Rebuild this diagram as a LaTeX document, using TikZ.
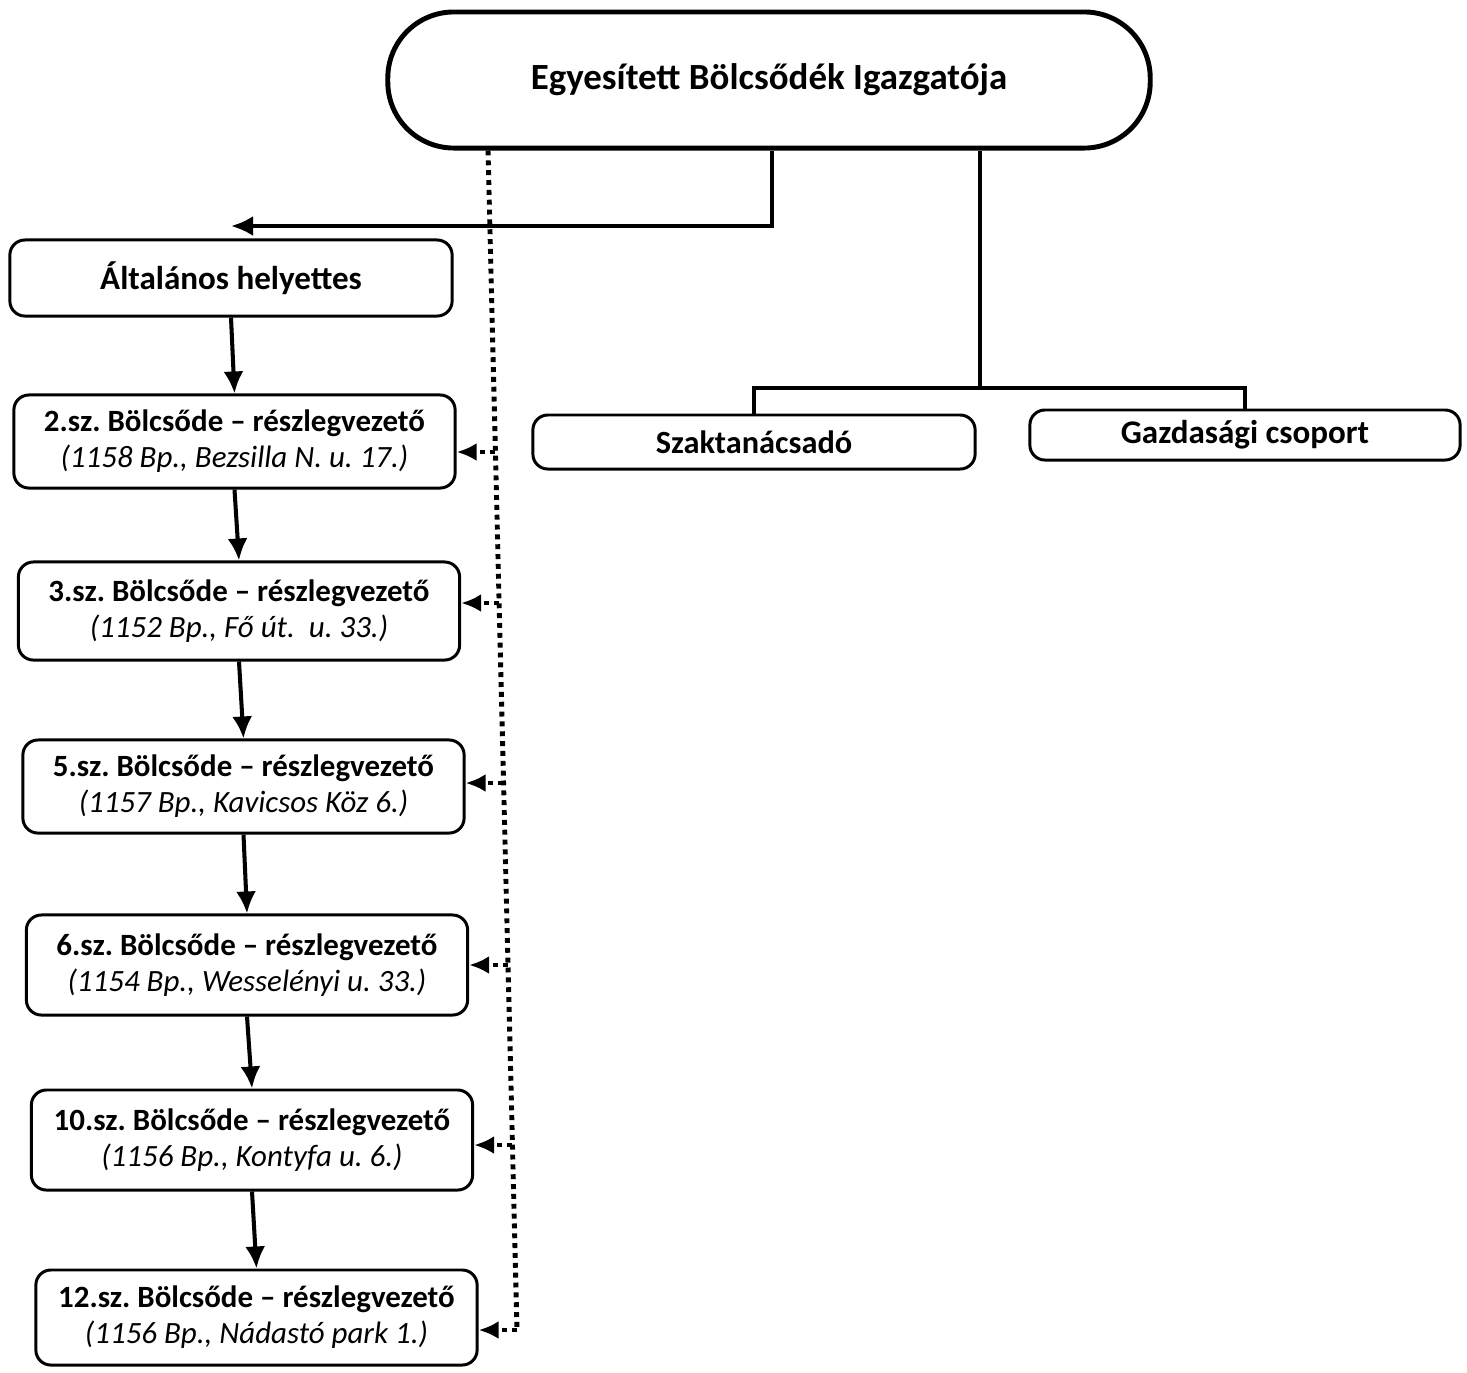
\documentclass[tikz,border=0pt]{standalone}
\usepackage{fontspec}
\setmainfont{Carlito}
\usetikzlibrary{arrows.meta,calc}
\frenchspacing
\begin{document}
\begin{tikzpicture}[x=0.01cm,y=-0.01cm,
  box/.style={draw, line width=0.85pt, rounded corners=0.15cm, align=center, inner sep=0pt,
     minimum width=4.41cm, font=\fontsize{8.8}{10.2}\selectfont\bfseries},
  pill/.style={draw, line width=1.4pt, rounded corners=0.66cm, inner sep=0pt,
     minimum width=7.62cm, minimum height=1.36cm, font=\fontsize{10.5}{12}\selectfont\bfseries},
  conn/.style={line width=1.15pt},
  arr/.style={conn, -{Latex[length=0.22cm,width=0.2cm]}},
  dotline/.style={line width=1.4pt, dash pattern=on 1.4pt off 1.4pt},
  dotarr/.style={dotline, -{Latex[length=0.2cm,width=0.18cm]}},
  sub/.style={}
]
\useasboundingbox (0,0) rectangle (1467,1372);

\node[pill] (top) at (769,80) {Egyesített Bölcsődék Igazgatója};

\node[box, minimum height=0.76cm, minimum width=4.42cm, font=\fontsize{9.4}{11}\selectfont\bfseries] (alt) at (231,278) {Általános helyettes};
\node[box, minimum height=0.93cm] (b2) at (234.5,441.5) {2.sz. Bölcsőde – részlegvezető\\ \mdseries\itshape (1158 Bp., Bezsilla N. u. 17.)};
\node[box, minimum height=0.98cm] (b3) at (239,611) {3.sz. Bölcsőde – részlegvezető\\ \mdseries\itshape (1152 Bp., Fő út.\ \ u. 33.)};
\node[box, minimum height=0.93cm] (b5) at (243.5,786.5) {5.sz. Bölcsőde – részlegvezető\\ \mdseries\itshape (1157 Bp., Kavicsos Köz 6.)};
\node[box, minimum height=1.0cm] (b6) at (247,965) {6.sz. Bölcsőde – részlegvezető\\ \mdseries\itshape (1154 Bp., Wesselényi u. 33.)};
\node[box, minimum height=1.0cm] (b10) at (252,1140) {10.sz. Bölcsőde – részlegvezető\\ \mdseries\itshape (1156 Bp., Kontyfa u. 6.)};
\node[box, minimum height=0.95cm] (b12) at (256.5,1317.5) {12.sz. Bölcsőde – részlegvezető\\ \mdseries\itshape (1156 Bp., Nádastó park 1.)};

\node[box, minimum height=0.54cm, minimum width=4.42cm, font=\fontsize{9.2}{10}\selectfont\bfseries] (sz) at (754,442) {Szaktanácsadó};
\node[box, minimum height=0.5cm, minimum width=4.3cm, font=\fontsize{9.4}{10}\selectfont\bfseries] (gz) at (1245,435) {Gazdasági csoport};

% solid connectors
\coordinate (j1) at (772,226);
\draw[arr] (top.south -| j1) |- (alt.north |- j1);
\coordinate (j2) at (980,388);
\draw[conn] (top.south -| j2) -- (j2);
\draw[conn] (sz.north) |- (j2) -| (gz.north);

\draw[arr] (alt.south) -- (b2.north);
\draw[arr] (b2.south) -- (b3.north);
\draw[arr] (b3.south) -- (b5.north);
\draw[arr] (b5.south) -- (b6.north);
\draw[arr] (b6.south) -- (b10.north);
\draw[arr] (b10.south) -- (b12.north);

% dotted staff line
\coordinate (d0) at (488,150);
\coordinate (d1) at (517,1330);
\draw[dotline] (top.south -| d0) -- (d1);
\coordinate (p2) at (495,452);
\coordinate (p3) at (499,603);
\coordinate (p5) at (503,783);
\coordinate (p6) at (508,965);
\coordinate (p10) at (512,1145);
\coordinate (p12) at (517,1330);
\draw[dotarr] (p2) -- (p2 -| b2.east);
\draw[dotarr] (p3) -- (p3 -| b3.east);
\draw[dotarr] (p5) -- (p5 -| b5.east);
\draw[dotarr] (p6) -- (p6 -| b6.east);
\draw[dotarr] (p10) -- (p10 -| b10.east);
\draw[dotarr] (p12) -- (p12 -| b12.east);
\end{tikzpicture}
\end{document}
